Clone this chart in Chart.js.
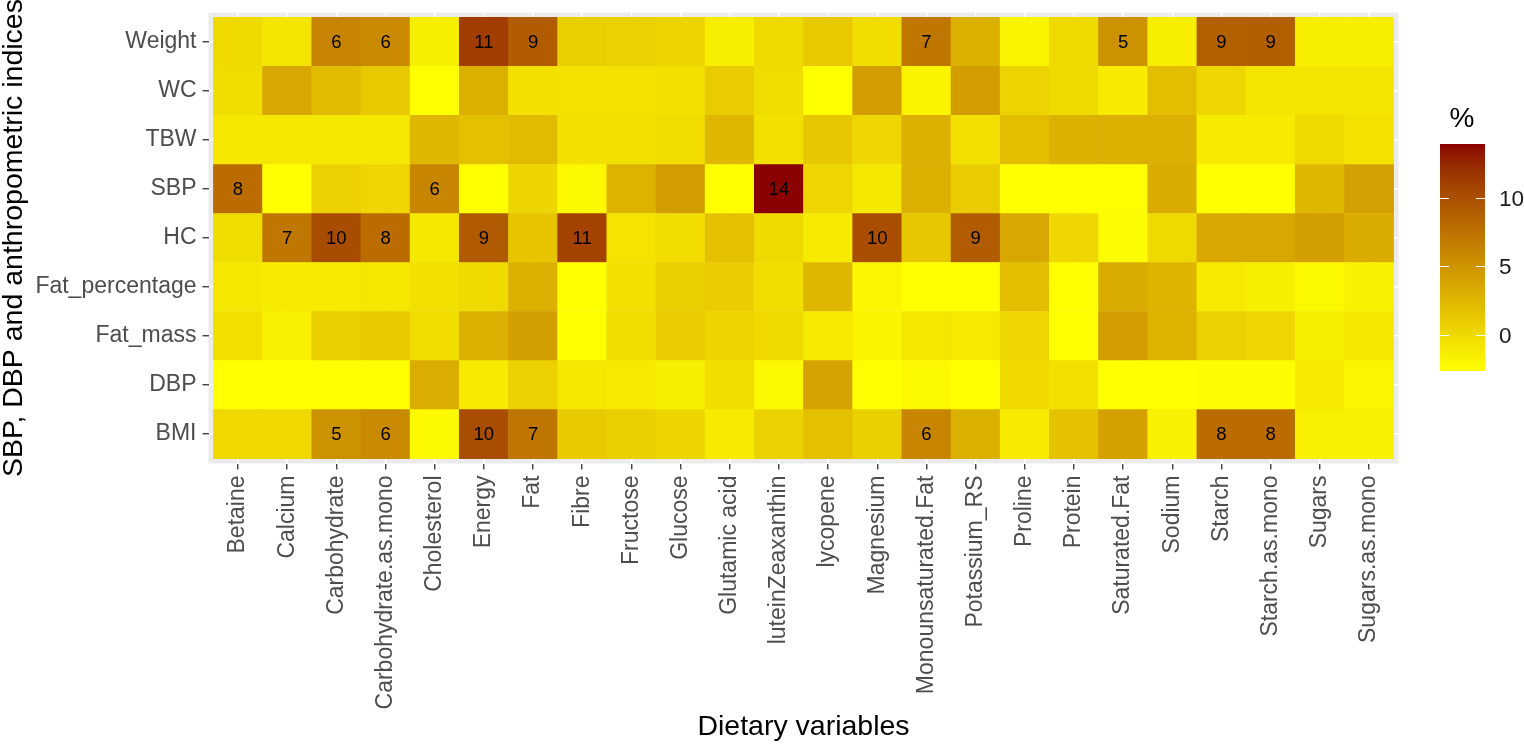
<!DOCTYPE html>
<html>
<head>
<meta charset="utf-8">
<script src="https://cdn.jsdelivr.net/npm/chart.js@4.4.1/dist/chart.umd.min.js"></script>
<style>
  html, body { margin: 0; padding: 0; background: #fff; }
  canvas { display: block; }
</style>
</head>
<body>
<canvas id="heat" width="1524" height="744"></canvas>
<script>
const FONT = "'Liberation Sans', Arial, sans-serif";

// dietary variables (x) and outcomes (y, bottom to top)
const cols = ["Betaine", "Calcium", "Carbohydrate", "Carbohydrate.as.mono", "Cholesterol",
    "Energy", "Fat", "Fibre", "Fructose", "Glucose", "Glutamic acid", "luteinZeaxanthin",
    "lycopene", "Magnesium", "Monounsaturated.Fat", "Potassium_RS", "Proline", "Protein",
    "Saturated.Fat", "Sodium", "Starch", "Starch.as.mono", "Sugars", "Sugars.as.mono"];
const rows = ["BMI", "DBP", "Fat_mass", "Fat_percentage", "HC", "SBP", "TBW", "WC", "Weight"];

// percentage values, one array per outcome, in column order
const bmi = [0.1, 0.1, 5.2, 5.8, -2.2, 10.1, 7.2, 1.1, 0.7, 0.3, -1.2, 0.5, 1.8, 0.7, 6.1, 3.0, -1.2, 1.7, 4.1, -1.6, 7.9, 7.9, -1.6, -1.6];
const dbp = [-2.6, -2.6, -2.6, -2.6, 3.2, -1.2, 0.6, -0.9, -1.1, -1.4, -0.3, -2.1, 4.0, -2.5, -2.1, -2.5, 0.1, -0.5, -2.6, -2.6, -2.4, -2.4, -1.3, -2.0];
const fatMass = [-0.5, -1.6, 0.8, 1.2, -0.3, 3.0, 4.3, -2.6, -0.2, 0.9, 0.3, 0.0, -1.1, -1.8, -0.9, -1.1, 0.2, -2.6, 4.4, 2.8, 0.6, 0.2, -1.4, -0.9];
const fatPct = [-0.9, -1.3, -1.2, -0.9, -0.4, 0.0, 3.0, -2.6, -0.5, 0.8, 0.9, -0.3, 2.6, -2.0, -2.6, -2.6, 2.0, -2.6, 3.3, 2.7, -1.1, -1.5, -2.1, -1.6];
const hc = [-0.2, 7.1, 10.2, 7.9, -1.0, 9.2, 1.5, 10.8, -0.7, -0.3, 1.8, 0.0, -1.3, 10.1, 1.3, 9.1, 3.6, 0.2, -2.4, 0.0, 3.6, 3.6, 4.3, 3.3];
const sbp = [7.9, -2.6, 0.6, 0.2, 6.1, -2.6, 0.3, -2.2, 2.8, 4.4, -2.6, 13.9, 0.2, -1.0, 3.0, 1.0, -2.6, -2.5, -2.5, 3.3, -2.6, -2.6, 2.6, 4.2];
const tbw = [-0.9, -1.0, -1.0, -1.0, 2.6, 1.8, 2.2, -0.4, -0.4, -0.3, 2.5, -0.5, 1.3, 0.2, 3.0, -0.5, 2.0, 2.9, 3.0, 3.0, -1.2, -1.2, 0.0, -0.6];
const wc = [-0.2, 3.6, 2.2, 1.2, -2.6, 3.0, -0.5, -0.6, -0.6, -0.4, 1.0, -0.2, -2.6, 4.4, -1.8, 4.4, 0.4, 0.0, -1.2, 2.0, 0.2, -0.8, -0.8, -0.8];
const weight = [0.0, -0.8, 6.2, 5.8, -1.5, 11.2, 9.1, 0.8, 0.6, 0.3, -1.5, 0.0, 1.2, -0.3, 7.1, 3.0, -1.8, 0.0, 5.2, -1.5, 8.8, 8.9, -1.5, -1.5];

const series = [bmi, dbp, fatMass, fatPct, hc, sbp, tbw, wc, weight];
const legendTicks = [0, 5, 10];

const allVals = series.flat();
const vmin = Math.min(...allVals);
const vmax = Math.max(...allVals);

// yellow -> darkred gradient interpolated in Lab, like ggplot's scale_fill_gradient
function hexToLab(hex) {
    let c = [1, 3, 5].map(i => parseInt(hex.substr(i, 2), 16) / 255)
        .map(v => v <= 0.04045 ? v / 12.92 : Math.pow((v + 0.055) / 1.055, 2.4));
    let x = (0.4124 * c[0] + 0.3576 * c[1] + 0.1805 * c[2]) / 0.95047;
    let y = 0.2126 * c[0] + 0.7152 * c[1] + 0.0722 * c[2];
    let z = (0.0193 * c[0] + 0.1192 * c[1] + 0.9505 * c[2]) / 1.08883;
    const f = t => t > 0.008856 ? Math.cbrt(t) : 7.787 * t + 16 / 116;
    return [116 * f(y) - 16, 500 * (f(x) - f(y)), 200 * (f(y) - f(z))];
}

function labToRgb(L, a, b) {
    let fy = (L + 16) / 116, fx = fy + a / 500, fz = fy - b / 200;
    const g = t => t > 6 / 29 ? t * t * t : 3 * (6 / 29) * (6 / 29) * (t - 4 / 29);
    let x = 0.95047 * g(fx), y = g(fy), z = 1.08883 * g(fz);
    let r = 3.2406 * x - 1.5372 * y - 0.4986 * z;
    let gg = -0.9689 * x + 1.8758 * y + 0.0415 * z;
    let bb = 0.0557 * x - 0.2040 * y + 1.0570 * z;
    return [r, gg, bb].map(v => {
        v = Math.min(1, Math.max(0, v));
        v = v <= 0.0031308 ? 12.92 * v : 1.055 * Math.pow(v, 1 / 2.4) - 0.055;
        return Math.round(v * 255);
    });
}

const lowLab = hexToLab("#FFFF00");
const highLab = hexToLab("#8B0000");

function colorFor(v) {
    let t = (v - vmin) / (vmax - vmin);
    t = Math.min(1, Math.max(0, t));
    let lab = lowLab.map((l, i) => l + (highLab[i] - l) * t);
    let rgb = labToRgb(...lab);
    return `rgb(${rgb[0]},${rgb[1]},${rgb[2]})`;
}

const panelBg = {
    id: "panelBg",
    beforeDraw(chart) {
        const { ctx, chartArea: a } = chart;
        ctx.save();
        ctx.fillStyle = "#EBEBEB";
        ctx.fillRect(a.left, a.top, a.right - a.left, a.bottom - a.top);
        ctx.restore();
    }
};

const cellLabels = {
    id: "cellLabels",
    afterDatasetsDraw(chart) {
        const ctx = chart.ctx;
        ctx.save();
        ctx.font = `18.5px ${FONT}`;
        ctx.fillStyle = "#000";
        ctx.textAlign = "center";
        ctx.textBaseline = "middle";
        series.forEach((vals, r) => {
            chart.getDatasetMeta(r).data.forEach((bar, c) => {
                let n = Math.round(vals[c]);
                if (n >= 5) ctx.fillText(String(n), bar.x, (bar.y + bar.base) / 2 + 1);
            });
        });
        ctx.restore();
    }
};

const colorBar = {
    id: "colorBar",
    afterDraw(chart) {
        const { ctx, chartArea: a } = chart;
        const left = Math.round(a.right + 41.5), width = 45, top = 144, height = 227;
        const yOf = v => top + height - (v - vmin) / (vmax - vmin) * height;
        ctx.save();
        const grad = ctx.createLinearGradient(0, top, 0, top + height);
        for (let i = 0; i <= 40; i++) {
            grad.addColorStop(i / 40, colorFor(vmax - i / 40 * (vmax - vmin)));
        }
        ctx.fillStyle = grad;
        ctx.fillRect(left, top, width, height);
        ctx.strokeStyle = "#fff";
        ctx.lineWidth = 1;
        ctx.font = `22.5px ${FONT}`;
        ctx.fillStyle = "#1a1a1a";
        ctx.textAlign = "left";
        ctx.textBaseline = "middle";
        legendTicks.forEach(t => {
            let y = Math.round(yOf(t)) + 0.5;
            ctx.beginPath();
            ctx.moveTo(left, y); ctx.lineTo(left + 9, y);
            ctx.moveTo(left + width - 9, y); ctx.lineTo(left + width, y);
            ctx.stroke();
            ctx.fillText(String(t), left + 59, y + 1);
        });
        ctx.font = `28px ${FONT}`;
        ctx.fillStyle = "#000";
        ctx.fillText("%", left + 9.5, 119);
        ctx.restore();
    }
};

const datasets = rows.map((name, r) => ({
    label: name,
    data: series[r].map((v, c) => ({ x: c, y: [r - 0.5, r + 0.5] })),
    backgroundColor: series[r].map(colorFor),
    borderWidth: 0,
    grouped: false,
    barPercentage: 1,
    categoryPercentage: 1
}));

const gridStyle = {
    color: "#FFFFFF",
    lineWidth: 1.5,
    offset: false,
    tickColor: "#333333",
    tickLength: 6,
    tickWidth: 1.3
};

new Chart(document.getElementById("heat"), {
    type: "bar",
    data: { datasets },
    options: {
        responsive: false,
        animation: false,
        events: [],
        layout: { padding: { left: 0, right: 125.5, top: 12.5, bottom: 0 } },
        plugins: { legend: { display: false }, tooltip: { enabled: false } },
        scales: {
            x: {
                type: "linear",
                min: -0.6,
                max: 23.6,
                offset: false,
                grid: gridStyle,
                border: { display: false },
                afterBuildTicks: s => { s.ticks = cols.map((_, i) => ({ value: i })); },
                afterFit: s => { s.height = 280.5; s.paddingLeft = 0; s.paddingRight = 0; },
                ticks: {
                    autoSkip: false,
                    minRotation: 90,
                    maxRotation: 90,
                    padding: 6,
                    color: "#4D4D4D",
                    font: { family: FONT, size: 23 },
                    callback: v => cols[v]
                },
                title: {
                    display: true,
                    text: "Dietary variables",
                    color: "#000",
                    padding: 0,
                    font: { family: FONT, size: 28.5, lineHeight: 1.15 }
                }
            },
            y: {
                type: "linear",
                min: -0.6,
                max: 8.6,
                beginAtZero: false,
                grid: gridStyle,
                border: { display: false },
                afterBuildTicks: s => { s.ticks = rows.map((_, i) => ({ value: i })); },
                afterFit: s => { s.width = 208.5; s.paddingTop = 0; s.paddingBottom = 0; },
                ticks: {
                    autoSkip: false,
                    padding: 6,
                    color: "#4D4D4D",
                    font: { family: FONT, size: 23 },
                    callback: v => rows[v]
                },
                title: {
                    display: true,
                    text: "SBP, DBP and anthropometric indices",
                    color: "#000",
                    padding: 0,
                    font: { family: FONT, size: 28.5, lineHeight: 1 }
                }
            }
        }
    },
    plugins: [panelBg, cellLabels, colorBar]
});
</script>
</body>
</html>
